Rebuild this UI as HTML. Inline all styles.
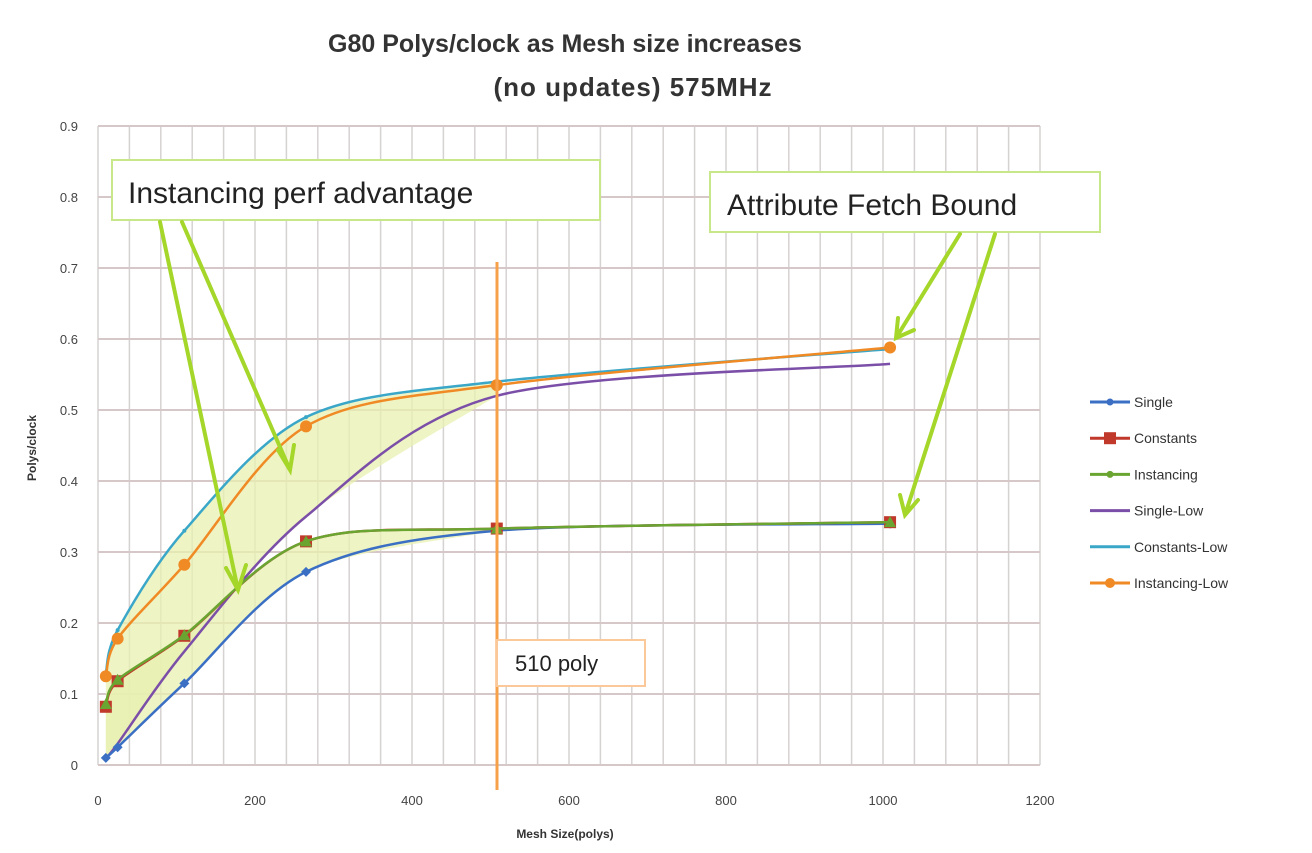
<!DOCTYPE html>
<html><head><meta charset="utf-8"><style>
body{margin:0;background:#fff;}
svg{display:block;font-family:"Liberation Sans",sans-serif;}
</style></head><body>
<svg id="chart" width="1312" height="853" viewBox="0 0 1312 853">
<g id="grid"></g>
<g id="fills"></g>
<g id="series"></g>
<g id="axes"></g>
<text x="565" y="52" text-anchor="middle" font-size="25" font-weight="bold" fill="#333">G80 Polys/clock as Mesh size increases</text>
<text x="633" y="96" text-anchor="middle" font-size="26" font-weight="bold" fill="#333" letter-spacing="1">(no updates) 575MHz</text>
<text x="565" y="838" text-anchor="middle" font-size="12" font-weight="bold" fill="#333">Mesh Size(polys)</text>
<text transform="translate(36,448) rotate(-90)" text-anchor="middle" font-size="12" font-weight="bold" fill="#333">Polys/clock</text>
<g id="legend"></g>
<g>
<line x1="497" y1="262" x2="497" y2="790" stroke="#f7a04a" stroke-width="3"/>
<rect x="497" y="640" width="148" height="46" fill="#fff" stroke="#fbc89a" stroke-width="2"/>
<text x="515" y="671" font-size="22" fill="#222">510 poly</text>
<rect x="112" y="160" width="488" height="60" fill="#fff" stroke="#c8e68a" stroke-width="2"/>
<text x="128" y="203" font-size="30" fill="#222">Instancing perf advantage</text>
<rect x="710" y="172" width="390" height="60" fill="#fff" stroke="#c8e68a" stroke-width="2"/>
<text x="727" y="215" font-size="30" fill="#222">Attribute Fetch Bound</text>
<g stroke="#a5d62a" stroke-width="4" fill="none" stroke-linecap="round">
<path d="M160 222 L238 590 M226 568 L238 590 L246 565"/>
<path d="M182 222 L290 470 M278 450 L290 470 L294 445"/>
<path d="M960 234 L896 338 M898 318 L896 338 L914 330"/>
<path d="M995 234 L905 515 M900 495 L905 515 L918 500"/>
</g>
</g>
</svg>
<script>
const xs = [10, 25, 110, 265, 508, 1009];
const single = [0.01, 0.025, 0.115, 0.272, 0.33, 0.34];
const constants = [0.082, 0.118, 0.182, 0.315, 0.333, 0.342];
const instancing = [0.086, 0.12, 0.183, 0.315, 0.333, 0.342];
const singleLow = [0.01, 0.03, 0.16, 0.35, 0.52, 0.565];
const constantsLow = [0.13, 0.19, 0.33, 0.49, 0.54, 0.586];
const instancingLow = [0.125, 0.178, 0.282, 0.477, 0.535, 0.588];
const xTicks = [0, 200, 400, 600, 800, 1000, 1200];
const yTicks = [0, 0.1, 0.2, 0.3, 0.4, 0.5, 0.6, 0.7, 0.8, 0.9];
const seriesNames = ["Single","Constants","Instancing","Single-Low","Constants-Low","Instancing-Low"];

const NS="http://www.w3.org/2000/svg";
const X0=98, XS=(1040-98)/1200, Y0=765, YS=(765-126)/0.9;
const sx=v=>X0+v*XS, sy=v=>Y0-v*YS;
function mk(tag,attrs,parent){const e=document.createElementNS(NS,tag);for(const k in attrs)e.setAttribute(k,attrs[k]);parent.appendChild(e);return e;}
function smooth(pts){let d=`M${pts[0][0]} ${pts[0][1]}`;for(let i=0;i<pts.length-1;i++){const p0=pts[Math.max(0,i-1)],p1=pts[i],p2=pts[i+1],p3=pts[Math.min(pts.length-1,i+2)];const t=0.3;d+=` C${p1[0]+(p2[0]-p0[0])*t/2} ${p1[1]+(p2[1]-p0[1])*t/2} ${p2[0]-(p3[0]-p1[0])*t/2} ${p2[1]-(p3[1]-p1[1])*t/2} ${p2[0]} ${p2[1]}`;}return d;}
const pts=arr=>arr.map((v,i)=>[sx(xs[i]),sy(v)]);

const grid=document.getElementById('grid');
for(let v=0;v<=1200;v+=40){const l=mk('line',{x1:sx(v),x2:sx(v),y1:sy(0.9),y2:Y0,stroke:'#d6d2d2','stroke-width':1.5},grid);
}
yTicks.forEach(v=>{const l=mk('line',{x1:X0,x2:sx(1200),y1:sy(v),y2:sy(v),stroke:'#d6c8c8','stroke-width':2},grid);
});

const axes=document.getElementById('axes');
yTicks.forEach(v=>{const t=mk('text',{x:78,y:sy(v)+5,'text-anchor':'end','font-size':13,fill:'#444'},axes);t.textContent=v===0?'0':v.toFixed(1);
});
xTicks.forEach(v=>{const t=mk('text',{x:sx(v),y:805,'text-anchor':'middle','font-size':13,fill:'#444'},axes);t.textContent=v;
});

const fills=document.getElementById('fills');
function band(upper,lower,n){const u=pts(upper).slice(0,n),lo=pts(lower).slice(0,n).reverse();
const sl=smooth(lo);
const d=smooth(u)+' L'+lo[0][0]+' '+lo[0][1]+sl.slice(sl.indexOf(' C'))+' Z';
const p=mk('path',{d:d,fill:'#e8f0b0',opacity:0.75},fills);}
band(constantsLow,singleLow,5);
band(instancing,single,5);

const colors=['#3a6fc4','#c0392b','#6aa531','#7b4fa8','#3aa7c9','#f08a24'];
const data=[single,constants,instancing,singleLow,constantsLow,instancingLow];
const order=[3,4,5,0,1,2];
const sg=document.getElementById('series');
order.forEach(i=>{const p=mk('path',{d:smooth(pts(data[i])),fill:'none',stroke:colors[i],'stroke-width':2.5},sg);

if(i===3)return;
pts(data[i]).forEach(q=>{let m;
if(i===1){m=mk('rect',{x:q[0]-6,y:q[1]-6,width:12,height:12,fill:colors[i]},sg);}
else if(i===2){m=mk('path',{d:`M${q[0]} ${q[1]-6} L${q[0]+6} ${q[1]+5} L${q[0]-6} ${q[1]+5} Z`,fill:colors[i]},sg);}
else if(i===0){m=mk('path',{d:`M${q[0]} ${q[1]-5} L${q[0]+5} ${q[1]} L${q[0]} ${q[1]+5} L${q[0]-5} ${q[1]} Z`,fill:colors[i]},sg);}
else if(i===4){m=mk('circle',{cx:q[0],cy:q[1],r:2,fill:colors[i]},sg);}
else {m=mk('circle',{cx:q[0],cy:q[1],r:6,fill:colors[i]},sg);}
});});

const lg=document.getElementById('legend');
seriesNames.forEach((n,i)=>{const y=402+i*36.2;
const l=mk('line',{x1:1090,x2:1130,y1:y,y2:y,stroke:colors[i],'stroke-width':3},lg);
let m;
if(i===1)m=mk('rect',{x:1104,y:y-6,width:12,height:12,fill:colors[i]},lg);
else if(i===5)m=mk('circle',{cx:1110,cy:y,r:5,fill:colors[i]},lg);
else if(i!==3&&i!==4)m=mk('circle',{cx:1110,cy:y,r:3.5,fill:colors[i]},lg);
if(m){}
const t=mk('text',{x:1134,y:y+5,'font-size':14,fill:'#333'},lg);t.textContent=n;
});
</script>
</body></html>
